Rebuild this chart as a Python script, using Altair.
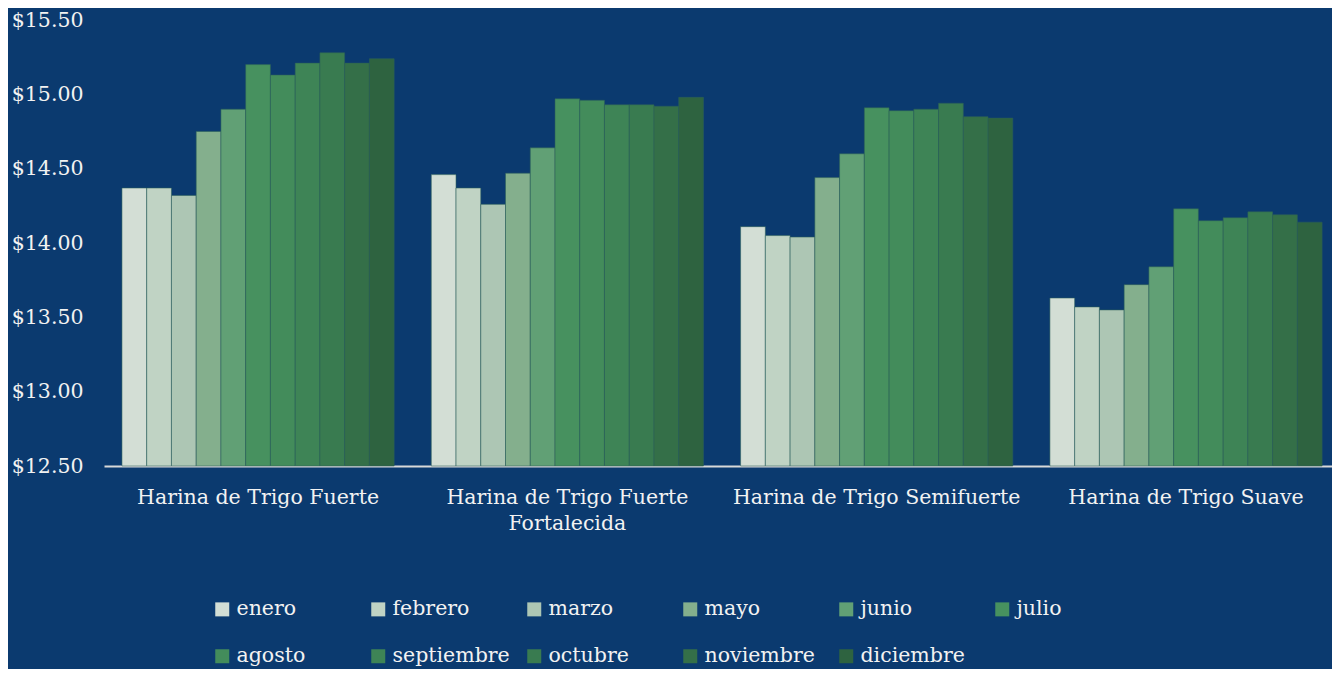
import altair as alt
import pandas as pd

categories = [
    "Harina de Trigo Fuerte",
    "Harina de Trigo Fuerte Fortalecida",
    "Harina de Trigo Semifuerte",
    "Harina de Trigo Suave",
]
months = ["enero", "febrero", "marzo", "mayo", "junio", "julio",
          "agosto", "septiembre", "octubre", "noviembre", "diciembre"]

fuerte = [14.37, 14.37, 14.32, 14.75, 14.90, 15.20, 15.13, 15.21, 15.28, 15.21, 15.24]
fortalecida = [14.46, 14.37, 14.26, 14.47, 14.64, 14.97, 14.96, 14.93, 14.93, 14.92, 14.98]
semifuerte = [14.11, 14.05, 14.04, 14.44, 14.60, 14.91, 14.89, 14.90, 14.94, 14.85, 14.84]
suave = [13.63, 13.57, 13.55, 13.72, 13.84, 14.23, 14.15, 14.17, 14.21, 14.19, 14.14]

colors = ["#d3ded5", "#c0d3c4", "#adc6b4", "#84af8d", "#61a075", "#47915f",
          "#438c5b", "#3e8456", "#397b50", "#346f48", "#2e6340"]

series = [fuerte, fortalecida, semifuerte, suave]
rows = []
for cat, vals in zip(categories, series):
    for m, v in zip(months, vals):
        rows.append({"producto": cat, "mes": m, "precio": v})
df = pd.DataFrame(rows)

FONT = "DejaVu Serif"
TXT = "#f2f2f2"
BG = "#0b3a6f"
FS = 20.5

chart = alt.Chart(df).mark_bar(
    stroke="#2b5f5a", strokeWidth=0.8, strokeOpacity=0.7
).encode(
    x=alt.X("producto:N", sort=categories, title=None,
            scale=alt.Scale(paddingInner=0.12, paddingOuter=0.045, align=0.645),
            axis=alt.Axis(
                labelAngle=0, labelFont=FONT, labelFontSize=FS, labelColor=TXT,
                labelPadding=21, labelLineHeight=26, ticks=False,
                domainColor="#d9d9d9", domainWidth=2, labelLimit=400,
                labelExpr="datum.label == 'Harina de Trigo Fuerte Fortalecida' ? ['Harina de Trigo Fuerte', 'Fortalecida'] : datum.label",
            )),
    xOffset=alt.XOffset("mes:N", sort=months,
                        scale=alt.Scale(paddingInner=0, paddingOuter=0)),
    y=alt.Y("precio:Q", title=None,
            scale=alt.Scale(domain=[12.5, 15.5], zero=False, nice=False),
            axis=alt.Axis(
                values=[12.5, 13.0, 13.5, 14.0, 14.5, 15.0, 15.5], format="$.2f",
                labelFont=FONT, labelFontSize=FS, labelColor=TXT,
                labelPadding=21, ticks=False, domain=False, grid=False,
            )),
    y2=alt.Y2(datum=12.5),
    color=alt.Color("mes:N", sort=months,
                    scale=alt.Scale(domain=months, range=colors),
                    legend=alt.Legend(
                        title=None, orient="none", legendX=108, legendY=579,
                        direction="horizontal", columns=6, gridAlign="all",
                        symbolType="square", symbolSize=196, symbolStrokeWidth=0,
                        labelFont=FONT, labelFontSize=FS, labelColor=TXT,
                        labelOffset=4, columnPadding=14, rowPadding=26,
                        labelLimit=300,
                    )),
).properties(
    width=1228, height=446,
    background=BG,
    padding={"left": 96, "top": 12, "right": 0, "bottom": 203},
    autosize=alt.AutoSizeParams(type="none"),
).configure_view(stroke=None)

chart.save("out.html", embed_options={"renderer": "svg", "actions": False})
